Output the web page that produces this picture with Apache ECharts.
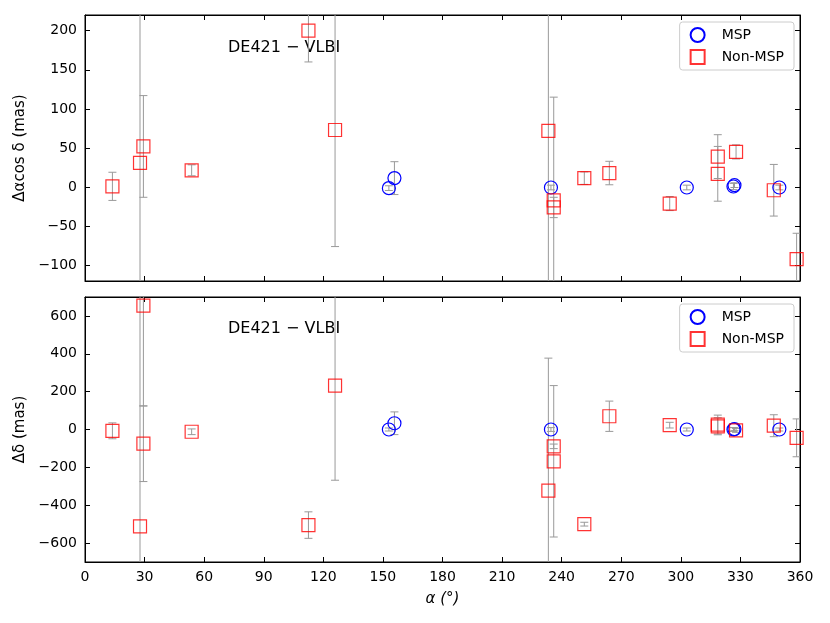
<!DOCTYPE html>
<html>
<head>
<meta charset="utf-8">
<script src="https://cdn.jsdelivr.net/npm/echarts@6/dist/echarts.min.js"></script>
<style>
  html, body { margin: 0; padding: 0; background: #fff; }
  #chart { width: 830px; height: 623px; }
</style>
</head>
<body>
<div id="chart"></div>
<script>
// MSP sources: RA (deg), offsets and errors (mas)
var raMsp = [153, 155.8, 234.6, 303, 326.5, 327, 349.6];
var draMsp = [-1.3, 11.5, -0.5, -0.5, 0.8, 2.5, -0.5];
var draMspErr = [3, 21, 3, 3, 4, 3, 3];
var ddecMsp = [0, 33, 0, 0, 0, 2, 0];
var ddecMspErr = [8, 60, 10, 8, 10, 8, 8];

// Non-MSP sources, upper panel
var raNonTop = [13.8, 27.7, 29.4, 53.7, 112.5, 125.9, 233.3, 236, 236, 251.4, 264, 294.4, 318.6, 318.6, 327.8, 346.8, 358.3];
var draNon = [1, 31, 52, 21.5, 200, 73, 72, -17, -26, 11.5, 18, -21, 39, 17, 45, -4, -92];
var draNonErr = [18, 300, 65, 7, 40, 149, 500, 132, 13, 8, 15, 9, 28, 35, 9, 33, 33];

// Non-MSP sources, lower panel
var raNonBot = [13.8, 27.7, 29.4, 29.4, 53.7, 112.5, 125.9, 233.3, 236, 236, 251.4, 264, 294.4, 318.6, 318.6, 327.8, 346.8, 358.3];
var ddecNon = [-7, -512, 654, -75, -12, -505, 232, -323, -89, -168, -500, 70, 23, 26, 17, -5, 20, -44];
var ddecNonErr = [42, 1300, 530, 200, 15, 70, 500, 700, 12, 400, 10, 80, 15, 50, 45, 10, 58, 100];

var yTicksTop = [-100, -50, 0, 50, 100, 150, 200];
var yTicksBot = [-600, -400, -200, 0, 200, 400, 600];

var FONT = 'DejaVu Sans';
var minus = function (v) { return String(v).replace('-', '\u2212'); };

function zip3(a, b, c) {
    return a.map(function (v, i) { return [v, b[i], c[i]]; });
}

function errSeries(data, xi, yi) {
    return {
        type: 'custom',
        xAxisIndex: xi,
        yAxisIndex: yi,
        clip: true,
        silent: true,
        z: 1,
        data: data,
        renderItem: function (params, api) {
            var x = api.value(0), y = api.value(1), e = api.value(2);
            var p1 = api.coord([x, y + e]);
            var p2 = api.coord([x, y - e]);
            var w = 4;
            var st = { stroke: '#999', lineWidth: 1 };
            return {
                type: 'group',
                children: [
                    { type: 'line', shape: { x1: p1[0], y1: p1[1], x2: p2[0], y2: p2[1] }, style: st },
                    { type: 'line', shape: { x1: p1[0] - w, y1: p1[1], x2: p1[0] + w, y2: p1[1] }, style: st },
                    { type: 'line', shape: { x1: p2[0] - w, y1: p2[1], x2: p2[0] + w, y2: p2[1] }, style: st }
                ]
            };
        }
    };
}

function markSeries(name, data, xi, yi) {
    var msp = name === 'MSP';
    return {
        name: name,
        type: 'scatter',
        xAxisIndex: xi,
        yAxisIndex: yi,
        symbol: msp ? 'circle' : 'rect',
        symbolSize: 13,
        z: 3,
        data: data.map(function (d) { return [d[0], d[1]]; }),
        itemStyle: {
            color: 'rgba(0,0,0,0)',
            borderColor: msp ? '#0000ff' : 'rgba(255,0,0,0.8)',
            borderWidth: 1.2,
            opacity: 1
        }
    };
}

function xAx(grid, pos, labels) {
    return {
        type: 'value', gridIndex: grid, position: pos, min: 0, max: 360, interval: 30,
        axisLine: { show: true, onZero: false, lineStyle: { color: '#000' } },
        axisTick: { show: true, inside: true, length: 5, lineStyle: { color: '#000' } },
        axisLabel: { show: labels, color: '#000', fontFamily: FONT, fontSize: 14, margin: 8 },
        splitLine: { show: false },
        name: labels ? '\u03b1 (\u00b0)' : '',
        nameLocation: 'middle',
        nameGap: 30,
        nameTextStyle: { color: '#000', fontFamily: FONT, fontSize: 15, fontStyle: 'italic' }
    };
}

function yAx(grid, pos, min, max, ticks, name) {
    var left = pos === 'left';
    return {
        type: 'value', gridIndex: grid, position: pos, min: min, max: max,
        axisLine: { show: true, onZero: false, lineStyle: { color: '#000' } },
        axisTick: { show: true, inside: true, length: 5, customValues: ticks, lineStyle: { color: '#000' } },
        axisLabel: { show: left, customValues: ticks, color: '#000', fontFamily: FONT, fontSize: 14, margin: 8, formatter: minus },
        splitLine: { show: false },
        name: left ? name : '',
        nameLocation: 'middle',
        nameGap: 42,
        nameTextStyle: { color: '#000', fontFamily: FONT, fontSize: 15 }
    };
}

function legendFor(top) {
    return {
        orient: 'vertical',
        right: 36,
        top: top,
        padding: [5, 10, 5, 10],
        itemGap: 6,
        itemWidth: 14,
        itemHeight: 14,
        borderColor: '#ccc',
        borderWidth: 1,
        borderRadius: 3,
        backgroundColor: 'rgba(255,255,255,0.8)',
        selectedMode: false,
        textStyle: { color: '#000', fontFamily: FONT, fontSize: 14, padding: [0, 0, 0, 12] },
        data: ['MSP', 'Non-MSP']
    };
}

var mspTop = zip3(raMsp, draMsp, draMspErr);
var mspBot = zip3(raMsp, ddecMsp, ddecMspErr);
var nonTop = zip3(raNonTop, draNon, draNonErr);
var nonBot = zip3(raNonBot, ddecNon, ddecNonErr);

var chart = echarts.init(document.getElementById('chart'));
chart.setOption({
    backgroundColor: '#fff',
    animation: false,
    grid: [
        { left: 85, right: 30, top: 15, height: 266, show: true, borderColor: '#000', borderWidth: 1 },
        { left: 85, right: 30, top: 297, height: 265, show: true, borderColor: '#000', borderWidth: 1 }
    ],
    xAxis: [xAx(0, 'bottom', false), xAx(0, 'top', false), xAx(1, 'bottom', true), xAx(1, 'top', false)],
    yAxis: [
        yAx(0, 'left', -120, 220, yTicksTop, '\u0394\u03b1cos \u03b4 (mas)'),
        yAx(0, 'right', -120, 220, yTicksTop, ''),
        yAx(1, 'left', -700, 700, yTicksBot, '\u0394\u03b4 (mas)'),
        yAx(1, 'right', -700, 700, yTicksBot, '')
    ],
    legend: [legendFor(22), legendFor(304)],
    graphic: [
        { type: 'text', left: 228, top: 40, style: { text: 'DE421 \u2212 VLBI', fontFamily: FONT, fontSize: 16, fill: '#000' } },
        { type: 'text', left: 228, top: 321, style: { text: 'DE421 \u2212 VLBI', fontFamily: FONT, fontSize: 16, fill: '#000' } }
    ],
    series: [
        errSeries(mspTop, 0, 0),
        errSeries(nonTop, 0, 0),
        markSeries('MSP', mspTop, 0, 0),
        markSeries('Non-MSP', nonTop, 0, 0),
        errSeries(mspBot, 2, 2),
        errSeries(nonBot, 2, 2),
        markSeries('MSP', mspBot, 2, 2),
        markSeries('Non-MSP', nonBot, 2, 2)
    ]
});
</script>
</body>
</html>
